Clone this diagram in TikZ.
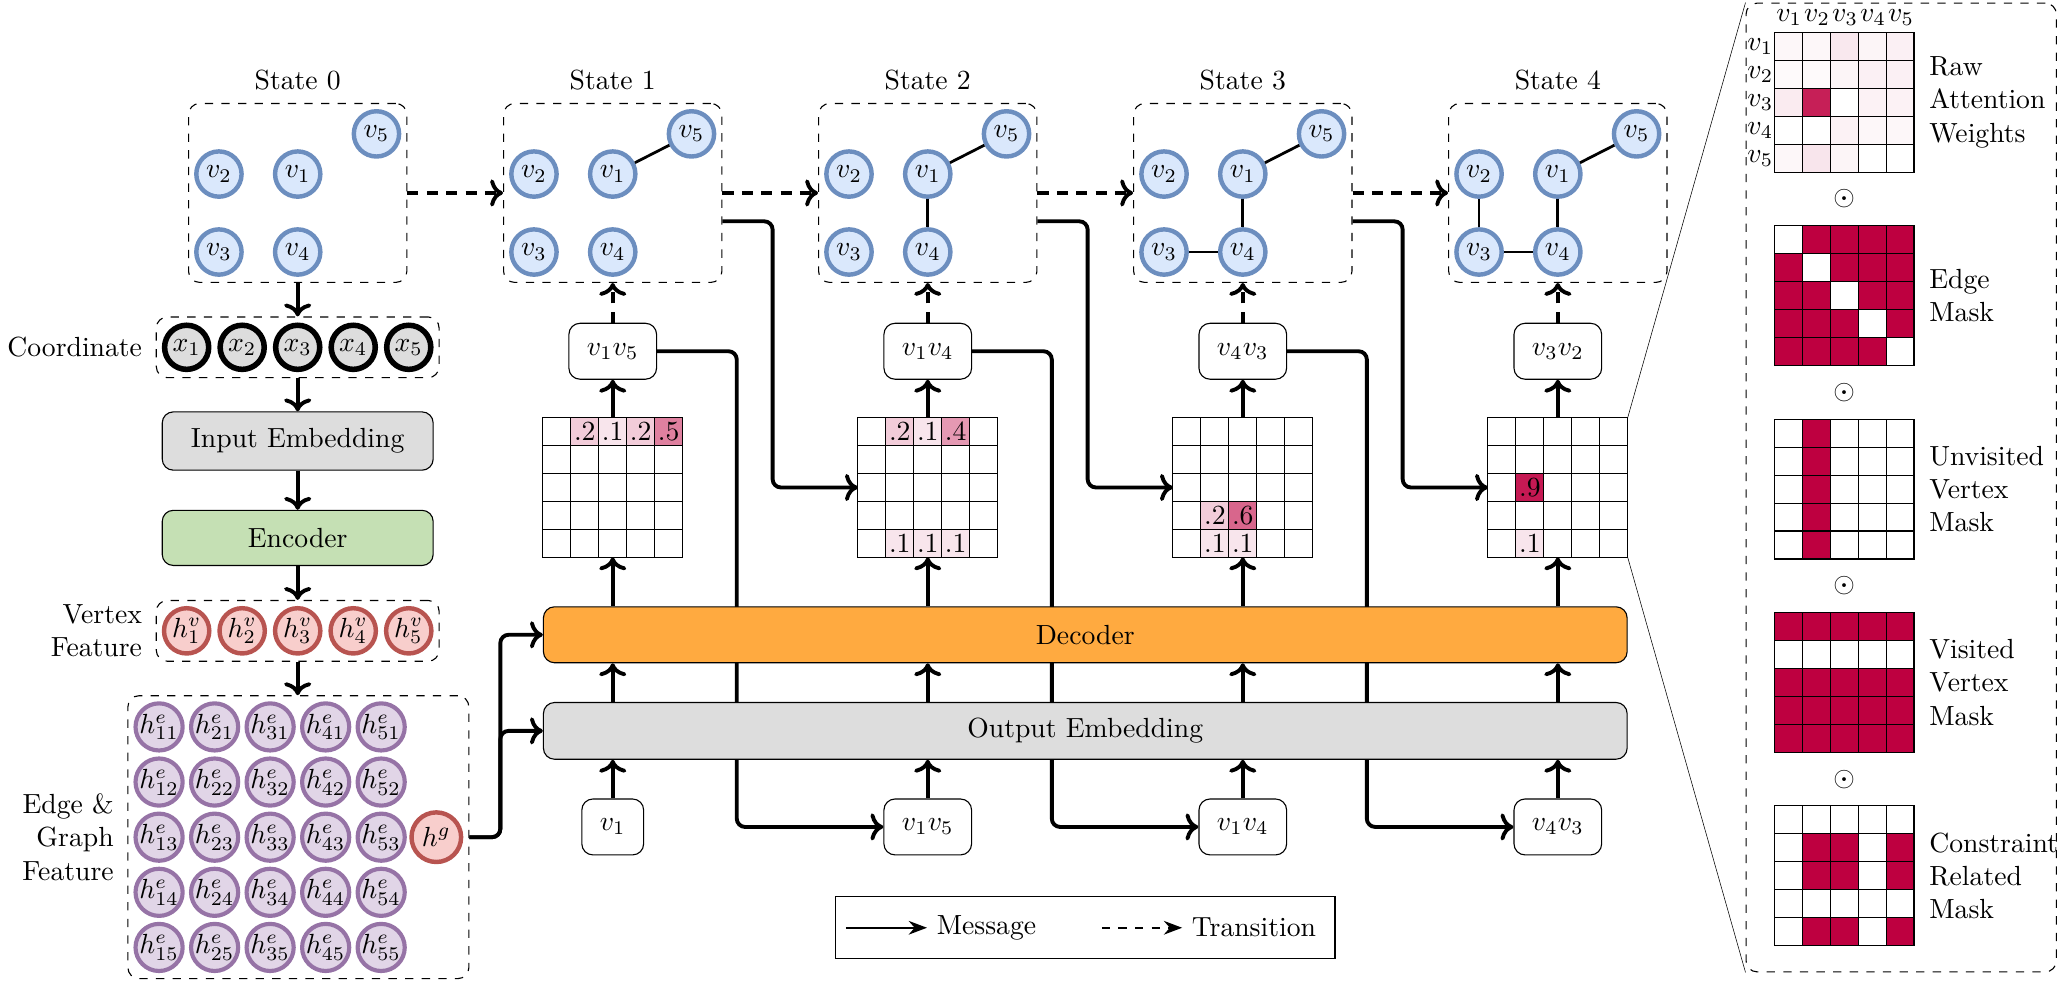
\documentclass[tikz,border=0pt]{standalone}
\usepackage{amsmath}
\usepackage{tikz}
\usetikzlibrary{positioning,arrows.meta,fit,backgrounds,calc}
\definecolor{vtxfill}{HTML}{DAE8FC}
\definecolor{vtxline}{HTML}{6C8EBF}
\definecolor{featfill}{HTML}{F8CECC}
\definecolor{featline}{HTML}{B85450}
\definecolor{edgefill}{HTML}{E1D5E7}
\definecolor{edgeline}{HTML}{9673A6}
\definecolor{embgray}{HTML}{DDDDDD}
\definecolor{encgreen}{HTML}{C5E0B4}
\definecolor{decorange}{HTML}{FFAA40}
\definecolor{maskred}{HTML}{BE0040}

\begin{document}
\begin{tikzpicture}[
        vtx/.style={circle, draw=vtxline, fill=vtxfill, line width=1.6pt,
        minimum size=0.575cm, inner sep=0pt},
        coordvtx/.style={circle, draw=black, fill=embgray, line width=2pt,
        minimum size=0.56cm, inner sep=0pt},
        vfeat/.style={circle, draw=featline, fill=featfill, line width=1.6pt,
        minimum size=0.575cm, inner sep=0pt},
        efeat/.style={circle, draw=edgeline, fill=edgefill, line width=1.5pt,
        minimum size=0.58cm, inner sep=0pt},
        dashbox/.style={draw, dashed, rounded corners, inner sep=2pt},
        block/.style={draw, rounded corners, minimum width=3.44cm, minimum height=0.72cm},
        tok/.style={draw, rounded corners, minimum height=0.71cm, inner xsep=6.5pt},
        cell/.style={draw, thin, minimum size=0.355cm, inner sep=0pt, outer sep=0pt},
        matbox/.style={minimum size=1.775cm, inner sep=0pt, outer sep=0pt},
        gedge/.style={line width=1pt},
        msg/.style={->, line width=1.4pt, rounded corners=3pt},
        trans/.style={->, line width=1.4pt, dash pattern=on 4pt off 3pt},
        masklabel/.style={align=left, anchor=west},
      ]
      \useasboundingbox (0,0) rectangle (26.22,-12.444);

      % states of the tour
      \foreach \k in {0,...,4} {
        \pgfmathsetmacro\cx{3.78+4*\k}
        \node[vtx] (s\k-v1) at (\cx,-2.21) {$v_1$};
        \node[vtx] (s\k-v2) at (\cx-1,-2.21) {$v_2$};
        \node[vtx] (s\k-v3) at (\cx-1,-3.2) {$v_3$};
        \node[vtx] (s\k-v4) at (\cx,-3.2) {$v_4$};
        \node[vtx] (s\k-v5) at (\cx+1,-1.7) {$v_5$};
        \node[dashbox, fit=(s\k-v2)(s\k-v3)(s\k-v5)] (s\k) {};
        \node[above=0.04cm of s\k] (title\k) {State \k};
      }
      \foreach \k in {1,...,4} \draw[gedge] (s\k-v1) -- (s\k-v5);
      \foreach \k in {2,3,4} \draw[gedge] (s\k-v1) -- (s\k-v4);
      \foreach \k in {3,4} \draw[gedge] (s\k-v4) -- (s\k-v3);
      \draw[gedge] (s4-v3) -- (s4-v2);
      \foreach \k [evaluate=\k as \n using int(\k+1)] in {0,...,3}
        \draw[trans] (s\k) -- (s\n);

      % encoder side
      \foreach \i in {1,...,5}
        \node[coordvtx] (x\i) at (0.705*\i+1.665,-4.41) {$x_\i$};
      \node[dashbox, fit=(x1)(x5)] (coordbox) {};
      \node[left=0.05cm of coordbox] (coordlabel) {Coordinate};

      \node[block, fill=embgray, minimum height=0.74cm] (inemb) at (3.78,-5.6) {Input Embedding};
      \node[block, fill=encgreen, minimum height=0.7cm] (enc) at (3.78,-6.83) {Encoder};

      \foreach \i in {1,...,5}
        \node[vfeat] (hv\i) at (0.705*\i+1.665,-8.01) {$h^v_\i$};
      \node[dashbox, fit=(hv1)(hv5)] (vfbox) {};
      \node[left=0.05cm of vfbox, align=right] (vflabel) {Vertex\\Feature};

      \foreach \i in {1,...,5}
        \foreach \j in {1,...,5}
          \node[efeat] (he\i\j) at (0.705*\i+1.315,-0.7*\j-8.53) {$h^e_{\i\j}$};
      \node[vfeat, minimum size=0.63cm] (hg) at (5.54,-10.63) {$h^g$};
      \node[dashbox, fit=(he11)(he55)(hg)] (efbox) {};
      \node[left=0.05cm of efbox, align=right] (eflabel) {Edge \&\\Graph\\Feature};

      \draw[msg] (s0) -- (coordbox);
      \draw[msg] (coordbox) -- (inemb);
      \draw[msg] (inemb) -- (enc);
      \draw[msg] (enc) -- (vfbox);
      \draw[msg] (vfbox.south) -- (vfbox.south |- efbox.north);

      % decoder side
      \node[block, fill=decorange, minimum width=13.76cm, minimum height=0.71cm] (dec) at (13.78,-8.06) {Decoder};
      \node[block, fill=embgray, minimum width=13.76cm, minimum height=0.72cm] (outemb) at (13.78,-9.28) {Output Embedding};

      \foreach \k/\lab in {1/{v_1v_5}, 2/{v_1v_4}, 3/{v_4v_3}, 4/{v_3v_2}}
        \node[tok] (top\k) at (3.78+4*\k,-4.46) {$\lab$};
      \foreach \k/\lab in {1/{v_1}, 2/{v_1v_5}, 3/{v_1v_4}, 4/{v_4v_3}}
        \node[tok] (bot\k) at (3.78+4*\k,-10.5) {$\lab$};

      \foreach \k/\vals in {1/{1/2/2,1/3/1,1/4/2,1/5/5},
        2/{1/2/2,1/3/1,1/4/4,5/2/1,5/3/1,5/4/1},
        3/{4/2/2,4/3/6,5/2/1,5/3/1}, 4/{3/2/9,5/2/1}} {
        \node[matbox] (m\k) at (3.78+4*\k,-6.19) {};
        \foreach \r in {1,...,5}
          \foreach \c in {1,...,5}
            \node[cell] (m\k c\r\c) at ($(m\k.north west)+(0.355*\c-0.1775,0.1775-0.355*\r)$) {};
        \foreach \r/\c/\v in \vals
          \node[cell, fill=maskred!\v0] (m\k v\r\c) at ($(m\k.north west)+(0.355*\c-0.1775,0.1775-0.355*\r)$) {.\v};
      }

      \foreach \k in {1,...,4} {
        \draw[msg] (bot\k) -- (bot\k |- outemb.south);
        \draw[msg] (outemb.north -| bot\k) -- (dec.south -| bot\k);
        \draw[msg] (dec.north -| m\k) -- (m\k);
        \draw[msg] (m\k) -- (top\k);
        \draw[trans] (top\k) -- (s\k);
      }
      \begin{scope}[on background layer]
        \foreach \k [evaluate=\k as \n using int(\k+1)] in {1,2,3}
          \draw[msg] (top\k.east) -| (5.355+4*\k,-7) |- (bot\n.west);
      \end{scope}
      \foreach \k [evaluate=\k as \n using int(\k+1)] in {1,2,3}
        \draw[msg] ([yshift=-0.36cm]s\k.east) -| (5.81+4*\k,-4) |- (m\n.west);

      \draw[msg] (efbox.east |- hg) -| ([xshift=-0.54cm]dec.west) -- (dec.west);
      \draw[msg] (efbox.east |- hg) -| ([xshift=-0.54cm]outemb.west) -- (outemb.west);

      % masks panel
      \coordinate (pnw) at (22.17,-0.04);
      \coordinate (pse) at (26.11,-12.34);
      \node[dashbox, inner sep=0pt, fit=(pnw)(pse)] (panel) {};
      \draw[very thin] (m4.north east) -- (panel.north west);
      \draw[very thin] (m4.south east) -- (panel.south west);

      \foreach \k in {1,...,5}
        \node[matbox] (pm\k) at (23.415,1.155-2.455*\k) {};
      \foreach \row [count=\r] in {{3,3,9,4,6},{2,2,4,6,6},{8,88,0,5,5},{0,0,5,3,3},{3,10,4,0,0}}
        \foreach \s [count=\c] in \row
          \node[cell, fill=maskred!\s] (pm1c\r\c) at ($(pm1.north west)+(0.355*\c-0.1775,0.1775-0.355*\r)$) {};
      \foreach \k/\cond in {2/{notequal(\r,\c)}, 3/{equal(\c,2)}, 4/{notequal(\r,2)},
        5/{and(or(or(equal(\r,2),equal(\r,3)),equal(\r,5)),or(or(equal(\c,2),equal(\c,3)),equal(\c,5)))}}
        \foreach \r in {1,...,5}
          \foreach \c in {1,...,5} {
            \pgfmathtruncatemacro\fillpct{100*\cond}
            \node[cell, fill=maskred!\fillpct] (pm\k c\r\c) at ($(pm\k.north west)+(0.355*\c-0.1775,0.1775-0.355*\r)$) {};
          }
      \foreach \c in {1,...,5}
        \node[inner sep=1pt] (cl\c) at (22.54+0.355*\c-0.1775,-0.22) {$v_\c$};
      \foreach \r in {1,...,5}
        \node[anchor=east, inner sep=0.5pt] (rl\r) at (22.54,-0.235-0.355*\r) {$v_\r$};
      \foreach \k [evaluate=\k as \n using int(\k+1)] in {1,...,4}
        \node (odot\k) at ($(pm\k.south)!0.5!(pm\n.north)$) {$\odot$};

      \node[masklabel, right=0.07cm of pm1] (lraw) {Raw\\Attention\\Weights};
      \node[masklabel, right=0.07cm of pm2] (ledge) {Edge\\Mask};
      \node[masklabel, right=0.07cm of pm3] (lunvis) {Unvisited\\Vertex\\Mask};
      \node[masklabel, right=0.07cm of pm4] (lvis) {Visited\\Vertex\\Mask};
      \node[masklabel, right=0.07cm of pm5] (lcons) {Constraint\\Related\\Mask};

      % legend
      \node[draw, minimum width=6.34cm, minimum height=0.79cm] (legend) at (13.78,-11.78) {};
      \coordinate (lgmsga) at (10.74,-11.78);
      \coordinate (lgmsgb) at (11.77,-11.78);
      \coordinate (lgtransa) at (13.99,-11.78);
      \coordinate (lgtransb) at (15.01,-11.78);
      \node[right=0pt of lgmsgb] (lgmsg) {Message};
      \node[right=0pt of lgtransb] (lgtrans) {Transition};
      \draw[thick, -{Stealth}] (lgmsga) -- (lgmsgb);
      \draw[thick, dashed, -{Stealth}] (lgtransa) -- (lgtransb);
    \end{tikzpicture}
\end{document}
